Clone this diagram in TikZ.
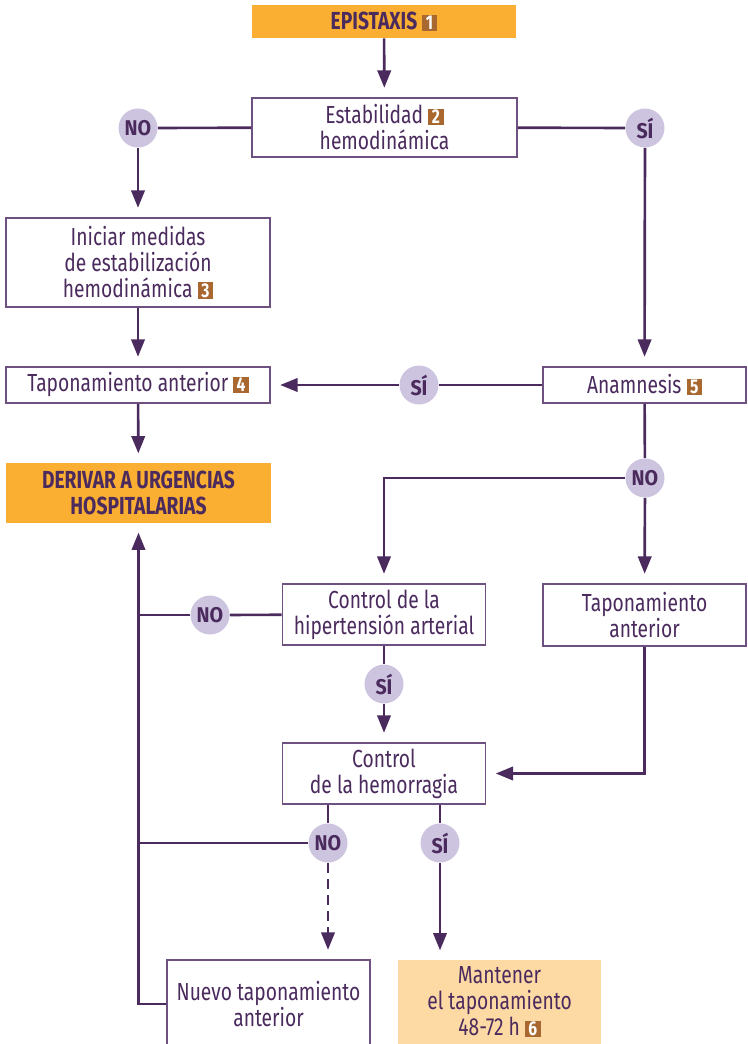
\documentclass[tikz,border=0pt]{standalone}
\usepackage{fontspec}
\setmainfont{Fira Sans}[FakeStretch=0.78]
\newfontfamily\tagfont{Fira Sans}[FakeStretch=0.92]
\usetikzlibrary{arrows.meta}

\definecolor{ink}{HTML}{4B2B5E}
\definecolor{frame}{HTML}{6E5180}
\definecolor{lilac}{HTML}{CDC5DF}
\definecolor{amber}{HTML}{FAAF32}
\definecolor{peach}{HTML}{FDD9A4}
\definecolor{badge}{HTML}{A8682F}

\newcommand\mainsz{\fontsize{18.5}{19.5}\selectfont}
\newcommand\tagsz{\tagfont\fontsize{16}{16}\selectfont}
% small brown square carrying a reference number
\newcommand\numbadge[1]{{\setlength{\fboxsep}{1pt}\colorbox{badge}{\makebox[9.6pt]{\rule{0pt}{10pt}\fontsize{15}{15}\selectfont\bfseries\textcolor{white}{#1}}}}}

\begin{document}
\begin{tikzpicture}[x=0.75pt,y=-0.75pt,
  box/.style={draw=frame, line width=1.3pt, fill=white, align=center, inner sep=0pt, text=ink, font=\mainsz},
  hot/.style={fill=amber, align=center, inner sep=0pt, text=ink, font=\mainsz\bfseries},
  soft/.style={fill=peach, align=center, inner sep=0pt, text=ink, font=\mainsz},
  tag/.style={circle, fill=lilac, minimum size=29.25pt, inner sep=0pt, text=ink, font=\tagsz\bfseries},
  link/.style={draw=ink, line width=2pt},
  go/.style={link, -{Triangle[length=13pt,width=10pt]}, shorten >=7pt},
]
\useasboundingbox (0,0) rectangle (747,1044);

% boxes
\node[hot, minimum width=198pt, minimum height=24.75pt] (epi) at (384,21.5) {EPISTAXIS \numbadge{1}};
\node[box, minimum width=198.75pt, minimum height=44.25pt] (estab) at (384.5,127.5) {Estabilidad \numbadge{2}\\hemodinámica};
\node[box, minimum width=198pt, minimum height=66.75pt] (iniciar) at (138,262.5) {Iniciar medidas\\de estabilización\\hemodinámica \numbadge{3}};
\node[box, minimum width=198pt, minimum height=27pt] (tap4) at (138,385) {Taponamiento anterior \numbadge{4}};
\node[hot, minimum width=198.75pt, minimum height=45pt] (derivar) at (138.5,493) {DERIVAR A URGENCIAS\\HOSPITALARIAS};
\node[box, minimum width=152.25pt, minimum height=27pt] (anam) at (644.5,385) {Anamnesis \numbadge{5}};
\node[box, minimum width=152.25pt, minimum height=45.75pt] (hta) at (384,614.5) {Control de la\\hipertensión arterial};
\node[box, minimum width=152.25pt, minimum height=46.5pt] (tap2) at (644.5,615) {Taponamiento\\anterior};
\node[box, minimum width=152.25pt, minimum height=45.75pt] (hem) at (384,773.5) {Control\\de la hemorragia};
\node[box, minimum width=152.25pt, minimum height=66pt] (nuevo) at (268.5,1004) {Nuevo taponamiento\\anterior};
\node[soft, minimum width=152.25pt, minimum height=63pt] (mant) at (499.5,1002) {Mantener\\el taponamiento\\48-72 h \numbadge{6}};

% decision tags
\node[tag] (no1) at (138,128) {NO};
\node[tag] (si1) at (645,128) {SÍ};
\node[tag] (si2) at (419,385) {SÍ};
\node[tag] (no2) at (645,478) {NO};
\node[tag] (no3) at (210,615) {NO};
\node[tag] (si3) at (384,684) {SÍ};
\node[tag] (no4) at (328,843) {NO};
\node[tag] (si4) at (440,843) {SÍ};

\coordinate (trunk) at (138,1004);

% connectors
\draw[go] (epi) -- (estab);
\draw[link] (estab) -- (no1);
\draw[go] (no1) -- (iniciar);
\draw[link] (estab) -- (si1);
\draw[go] (si1) -- (anam);
\draw[go] (iniciar) -- (tap4);
\draw[go] (tap4) -- (derivar);
\draw[link] (anam) -- (si2);
\draw[go] (si2) -- (tap4);
\draw[link] (anam) -- (no2);
\draw[go] (no2) -- (tap2);
\draw[go] (no2) -| (hta);
\draw[link] (hta) -- (no3);
\draw[link] (no3) -- (no3 -| trunk);
\draw[link] (hta) -- (si3);
\draw[go] (si3) -- (hem);
\draw[go] (tap2) |- (hem);
\draw[link] (hem.south -| no4) -- (no4);
\draw[link] (hem.south -| si4) -- (si4);
\draw[link] (no4) -- (no4 -| trunk);
\draw[go, dash pattern=on 7.5pt off 4.5pt] (no4) -- (no4 |- nuevo.north);
\draw[go] (si4) -- (si4 |- mant.north);
\draw[go] (nuevo) -| (derivar);
\end{tikzpicture}
\end{document}
